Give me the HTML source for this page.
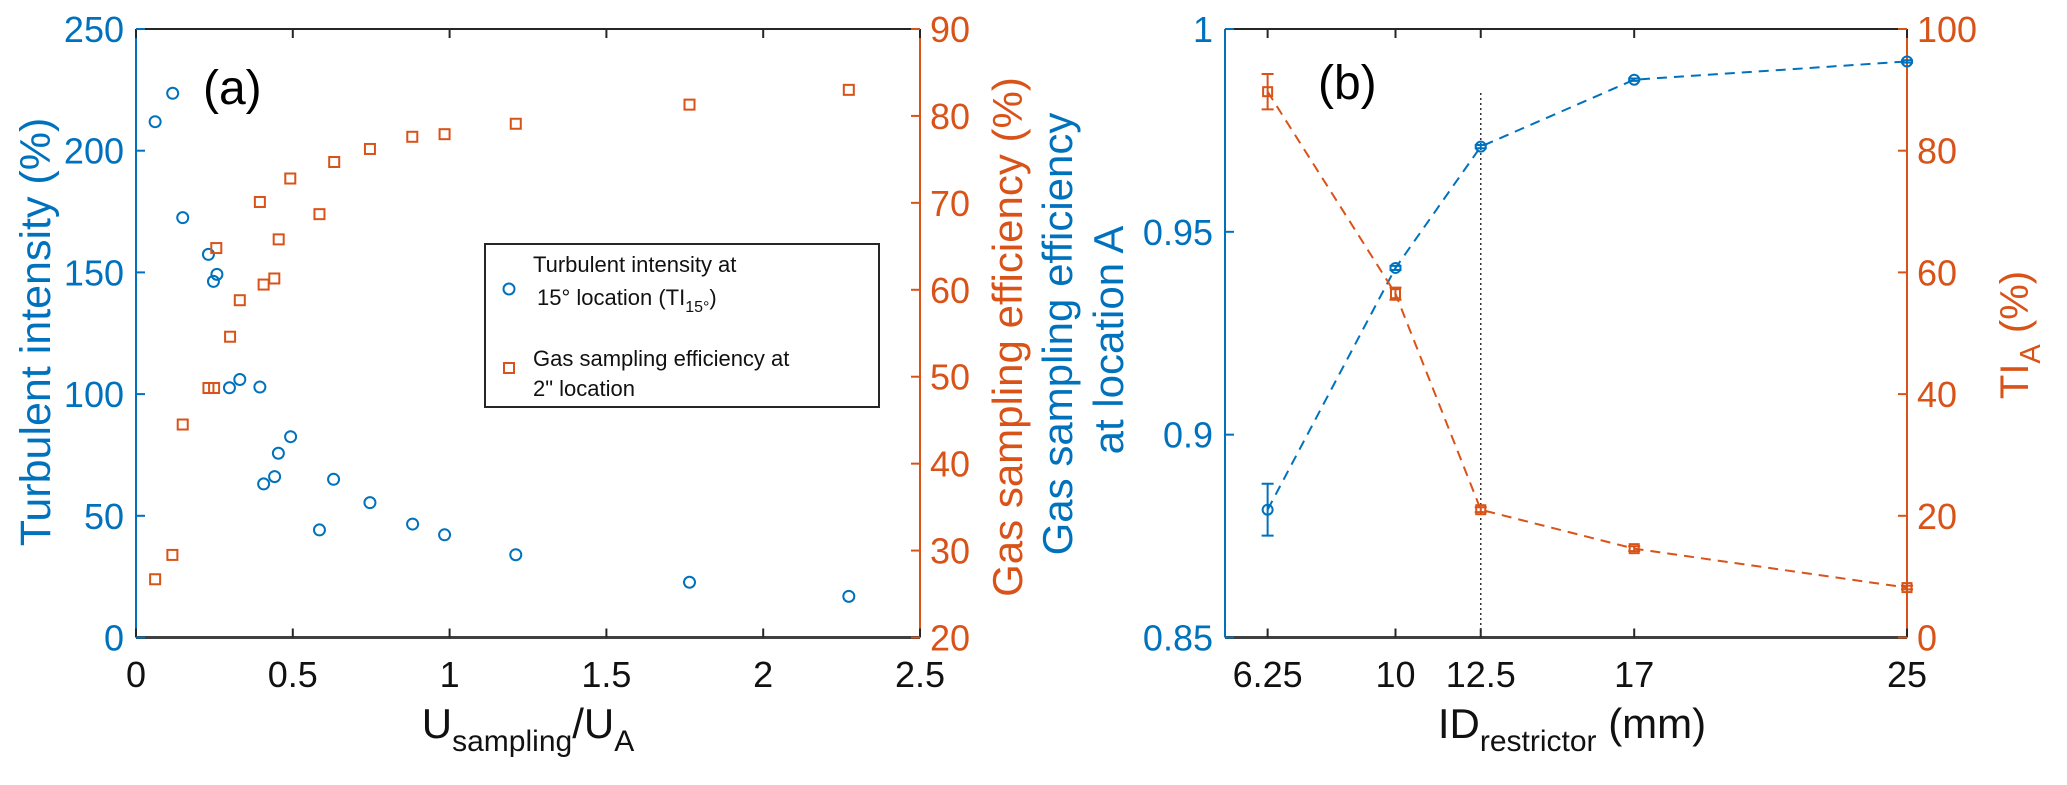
<!DOCTYPE html>
<html><head><meta charset="utf-8"><style>
html,body{margin:0;padding:0;background:#fff}
svg{display:block;font-family:"Liberation Sans",Arial,sans-serif}
</style></head><body>
<svg id="chart" width="2067" height="785" viewBox="0 0 2067 785" xmlns="http://www.w3.org/2000/svg"></svg>
<script>
// ---- Panel (a) data ----
const tiX = [0.061,0.117,0.149,0.231,0.258,0.247,0.298,0.331,0.395,0.407,0.442,0.454,0.493,0.585,0.63,0.746,0.882,0.984,1.211,1.765,2.273];
const tiY = [211.9,223.6,172.5,157.4,149.2,146.3,102.6,106,102.9,63.1,66.1,75.7,82.5,44.2,65,55.4,46.6,42.2,34,22.7,16.9];
const gsX = [0.061,0.116,0.149,0.231,0.249,0.256,0.30,0.331,0.395,0.407,0.441,0.455,0.492,0.585,0.632,0.746,0.881,0.984,1.211,1.765,2.273];
const gsY = [26.7,29.5,44.5,48.7,48.7,64.8,54.6,58.8,70.1,60.6,61.3,65.8,72.8,68.7,74.7,76.2,77.6,77.9,79.1,81.3,83.0];
const aXTicks = [0,0.5,1,1.5,2,2.5];
const aXTickLabels = ["0","0.5","1","1.5","2","2.5"];
const aLTicks = [0,50,100,150,200,250];
const aRTicks = [20,30,40,50,60,70,80,90];
// ---- Panel (b) data ----
const idX = [6.25,10,12.5,17,25];
const effY = [0.8815,0.9411,0.971,0.9875,0.992];
const effErr = [0.0064,0.0005,0.0004,0.0003,0.0003];
const tiaY = [89.7,56.5,21,14.6,8.2];
const tiaErr = [2.9,1.0,0.4,0.4,0.3];
const bXTicks = [6.25,10,12.5,17,25];
const bXTickLabels = ["6.25","10","12.5","17","25"];
const bLTicks = [0.85,0.9,0.95,1];
const bLTickLabels = ["0.85","0.9","0.95","1"];
const bRTicks = [0,20,40,60,80,100];
const restrictorLine = 12.5;

const BLUE="#0072BD", ORANGE="#D95319";
const svg=document.getElementById('chart');
const NS="http://www.w3.org/2000/svg";
function mk(tag,attrs,parent){const e=document.createElementNS(NS,tag);for(const k in attrs)e.setAttribute(k,attrs[k]);(parent||svg).appendChild(e);return e;}
function lin(d0,d1,r0,r1){return v=>r0+(v-d0)/(d1-d0)*(r1-r0);}

const TOP=29, BOT=637.5, TF=36;
const ax=lin(0,2.5,136,920), ayL=lin(0,250,BOT,TOP), ayR=lin(20,90,BOT,TOP);
const bx=lin(5,25,1225,1907), byL=lin(0.85,1,BOT,TOP), byR=lin(0,100,BOT,TOP);

function drawAxes(g,x0,x1,xs,xt,xtl,yl,ylTicks,ylLabels,yr,yrTicks){
  let l;
  l=mk('line',{x1:x0,y1:TOP,x2:x1,y2:TOP,stroke:'#262626','stroke-width':2},g);
  
  
  l=mk('line',{x1:x0,y1:BOT,x2:x1,y2:BOT,stroke:'#404040','stroke-width':3},g);
  
  
  l=mk('line',{x1:x0,y1:TOP,x2:x0,y2:BOT,stroke:BLUE,'stroke-width':2},g);
  
  
  l=mk('line',{x1:x1,y1:TOP,x2:x1,y2:BOT,stroke:ORANGE,'stroke-width':2},g);
  
  
  xt.forEach((v,i)=>{
    const x=xs(v);
    let t=mk('line',{x1:x,y1:BOT,x2:x,y2:BOT-9,stroke:'#262626','stroke-width':2},g);
    
    
    t=mk('line',{x1:x,y1:TOP,x2:x,y2:TOP+9,stroke:'#262626','stroke-width':2},g);
    
    
    const tx=mk('text',{x:x,y:687,'font-size':TF,'text-anchor':'middle',fill:'#111'},g);
    tx.textContent=xtl[i];
    
    
  });
  ylTicks.forEach((v,i)=>{
    const y=yl(v);
    let t=mk('line',{x1:x0,y1:y,x2:x0+9,y2:y,stroke:BLUE,'stroke-width':2},g);
    
    
    const tx=mk('text',{x:x0-12,y:y+13,'font-size':TF,'text-anchor':'end',fill:BLUE},g);
    tx.textContent=ylLabels[i];
    
    
  });
  yrTicks.forEach(v=>{
    const y=yr(v);
    let t=mk('line',{x1:x1,y1:y,x2:x1-9,y2:y,stroke:ORANGE,'stroke-width':2},g);
    
    
    const tx=mk('text',{x:x1+10,y:y+13,'font-size':TF,'text-anchor':'start',fill:ORANGE},g);
    tx.textContent=String(v);
    
    
  });
}
function rotText(g,x,y,txt,color,name,size){
  const t=mk('text',{x:0,y:0,'font-size':size||43,'text-anchor':'middle',fill:color,transform:`translate(${x},${y}) rotate(-90)`},g);
  t.textContent=txt;
  
  
  return t;
}

// ===== Panel a =====
const ga=mk('g',{});


drawAxes(ga,136,920,ax,aXTicks,aXTickLabels,ayL,aLTicks,aLTicks.map(String),ayR,aRTicks);
tiX.forEach((v,i)=>{
  const c=mk('circle',{cx:ax(v),cy:ayL(tiY[i]),r:5.5,fill:'none',stroke:BLUE,'stroke-width':2},ga);
  
  
});
gsX.forEach((v,i)=>{
  const r=mk('rect',{x:ax(v)-5,y:ayR(gsY[i])-5,width:10,height:10,fill:'none',stroke:ORANGE,'stroke-width':2},ga);
  
  
});
rotText(ga,50,332,'Turbulent intensity (%)',BLUE,'left-axis-title-a',43);
rotText(ga,1022,337,'Gas sampling efficiency (%)',ORANGE,'right-axis-title-a',42);
let t=mk('text',{x:528,y:738,'font-size':42,'text-anchor':'middle',fill:'#111'},ga);
t.innerHTML='U<tspan font-size="30" dy="13">sampling</tspan><tspan dy="-13">/U</tspan><tspan font-size="30" dy="13">A</tspan>';


t=mk('text',{x:203,y:104,'font-size':48,fill:'#000'},ga);
t.textContent='(a)';


// legend
const lg=mk('g',{},ga);


let r=mk('rect',{x:485,y:244,width:394,height:163,fill:'#fff',stroke:'#262626','stroke-width':2},lg);


let c=mk('circle',{cx:509,cy:289,r:5.5,fill:'none',stroke:BLUE,'stroke-width':2},lg);


r=mk('rect',{x:504,y:363,width:10,height:10,fill:'none',stroke:ORANGE,'stroke-width':2},lg);


t=mk('text',{x:533,y:272,'font-size':22,fill:'#111'},lg);
t.textContent='Turbulent intensity at';


t=mk('text',{x:537,y:305,'font-size':22,fill:'#111'},lg);
t.innerHTML='15° location (TI<tspan font-size="16" dy="7">15°</tspan><tspan dy="-7">)</tspan>';


t=mk('text',{x:533,y:366,'font-size':22,fill:'#111'},lg);
t.textContent='Gas sampling efficiency at';


t=mk('text',{x:533,y:396,'font-size':22,fill:'#111'},lg);
t.textContent='2" location';



// ===== Panel b =====
const gb=mk('g',{});


drawAxes(gb,1225,1907,bx,bXTicks,bXTickLabels,byL,bLTicks,bLTickLabels,byR,bRTicks);
let vl=mk('line',{x1:bx(restrictorLine),y1:93,x2:bx(restrictorLine),y2:BOT,stroke:'#333','stroke-width':1.5,'stroke-dasharray':'2,3'},gb);


function series(ys,err,ysc,color,shape,name){
  const pts=idX.map((v,i)=>bx(v)+','+ysc(ys[i])).join(' ');
  const pl=mk('polyline',{points:pts,fill:'none',stroke:color,'stroke-width':2,'stroke-dasharray':'10,7'},gb);
  
  
  idX.forEach((v,i)=>{
    const x=bx(v),y=ysc(ys[i]),y1=ysc(ys[i]+err[i]),y2=ysc(ys[i]-err[i]);
    const e=mk('path',{d:`M${x},${y1}V${y2}M${x-6},${y1}H${x+6}M${x-6},${y2}H${x+6}`,stroke:color,'stroke-width':2,fill:'none'},gb);
    
    
    let m;
    if(shape==='c') m=mk('circle',{cx:x,cy:y,r:5,fill:'none',stroke:color,'stroke-width':2},gb);
    else m=mk('rect',{x:x-4.5,y:y-4.5,width:9,height:9,fill:'none',stroke:color,'stroke-width':2},gb);
    
    
  });
}
series(effY,effErr,byL,BLUE,'c','efficiency');
series(tiaY,tiaErr,byR,ORANGE,'s','ti-a');
rotText(gb,1072,334,'Gas sampling efficiency',BLUE,'left-axis-title-b-line1',42);
rotText(gb,1123,340,'at location A',BLUE,'left-axis-title-b-line2',42);
t=mk('text',{x:0,y:0,'font-size':40,'text-anchor':'middle',fill:ORANGE,transform:'translate(2028,335) rotate(-90)'},gb);
t.innerHTML='TI<tspan font-size="29" dy="12">A</tspan><tspan dy="-12"> (%)</tspan>';


t=mk('text',{x:1572,y:738,'font-size':42,'text-anchor':'middle',fill:'#111'},gb);
t.innerHTML='ID<tspan font-size="30" dy="13">restrictor</tspan><tspan dy="-13"> (mm)</tspan>';


t=mk('text',{x:1318,y:99,'font-size':48,fill:'#000'},gb);
t.textContent='(b)';


</script>
</body></html>
